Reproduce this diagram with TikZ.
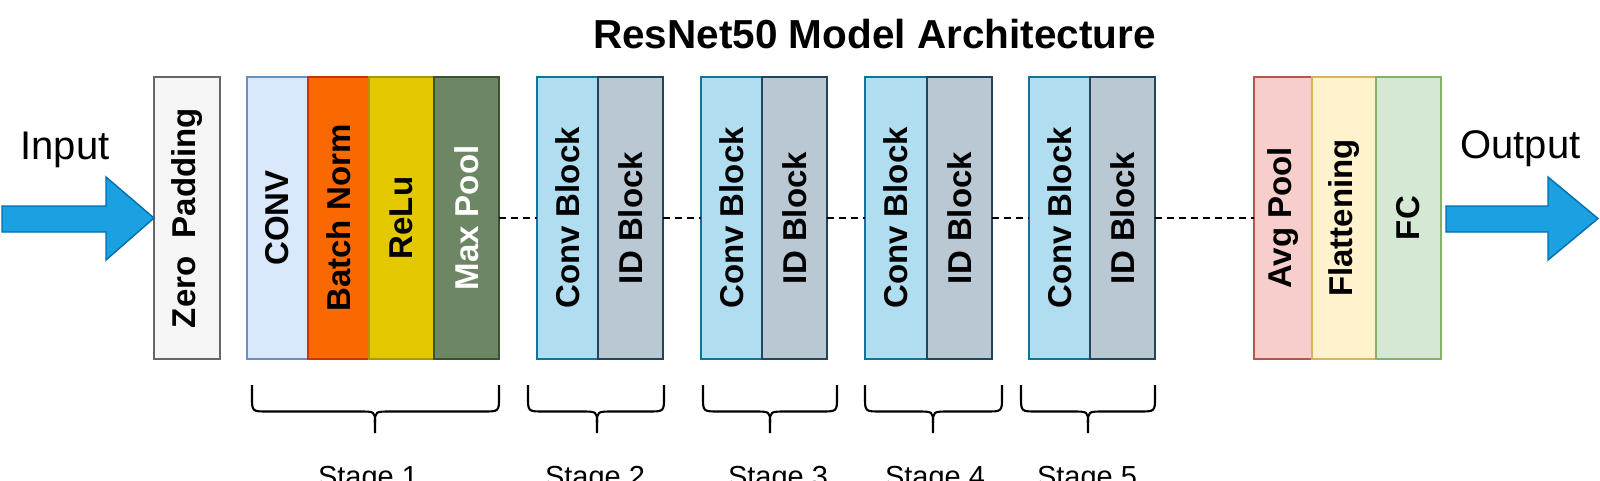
\documentclass[tikz,border=0pt]{standalone}
\usepackage{fontspec}
\setmainfont{Liberation Sans}
\definecolor{zpF}{HTML}{F5F5F5}\definecolor{zpD}{HTML}{666666}
\definecolor{cvF}{HTML}{DAE8FC}\definecolor{cvD}{HTML}{6C8EBF}
\definecolor{bnF}{HTML}{FA6800}\definecolor{bnD}{HTML}{C73500}
\definecolor{reF}{HTML}{E3C800}\definecolor{reD}{HTML}{B09500}
\definecolor{mpF}{HTML}{6D8764}\definecolor{mpD}{HTML}{3A5431}
\definecolor{cbF}{HTML}{B1DDF0}\definecolor{cbD}{HTML}{10739E}
\definecolor{idF}{HTML}{BAC8D3}\definecolor{idD}{HTML}{23445D}
\definecolor{apF}{HTML}{F8CECC}\definecolor{apD}{HTML}{B85450}
\definecolor{flF}{HTML}{FFF2CC}\definecolor{flD}{HTML}{D6B656}
\definecolor{fcF}{HTML}{D5E8D4}\definecolor{fcD}{HTML}{82B366}
\definecolor{arF}{HTML}{1BA1E2}\definecolor{arD}{HTML}{006EAF}
\newcommand\mybrace[3]{%
  \draw[bracestyle] (#1,385) -- (#1,397) .. controls (#1,411.5) and (#1,411.5) .. ({#1+16},411.5)
    -- ({#2-16},411.5) .. controls (#2,411.5) and (#2,411.5) .. (#2,423) -- (#2,433);
  \draw[bracestyle] (#3,385) -- (#3,397) .. controls (#3,411.5) and (#3,411.5) .. ({#3-16},411.5)
    -- ({#2+16},411.5) .. controls (#2,411.5) and (#2,411.5) .. (#2,423);
}
\tikzset{
  box/.style={rectangle, inner sep=0pt, outer sep=0pt, minimum height=282pt, line width=1.5pt},
  lbl/.style={rotate=90, font=\fontsize{33}{36}\selectfont\bfseries},
  bigarrow/.style={fill=arF, draw=arD, line width=1.4pt, line join=miter},
  dashconn/.style={draw=black, line width=2pt, dash pattern=on 7pt off 5pt},
  bracestyle/.style={draw=black, line width=2.1pt, line cap=butt},
  stagelbl/.style={anchor=base, font=\fontsize{29}{32}\selectfont},
  io/.style={anchor=base, font=\fontsize{40}{44}\selectfont}
}
\begin{document}
\begin{tikzpicture}[x=1pt, y=-1pt]
\useasboundingbox (0,0) rectangle (1600,480);
\clip (0,0) rectangle (1600,480);
\fill[white] (0,0) rectangle (1600,480);

\node[anchor=base, font=\fontsize{40.5}{44}\selectfont\bfseries] (title) at (874.5,48) {ResNet50 Model Architecture};

% boxes
\node[box, fill=zpF, draw=zpD, minimum width=66pt, label={[lbl]center:Zero\ \ Padding}] (zp) at (187,218) {};
\node[box, fill=cvF, draw=cvD, minimum width=61pt, label={[lbl]center:CONV}] (conv) at (277.5,218) {};
\node[box, fill=bnF, draw=bnD, minimum width=61pt, label={[lbl]center:Batch Norm}] (bn) at (338.5,218) {};
\node[box, fill=reF, draw=reD, minimum width=65pt, label={[lbl]center:ReLu}] (relu) at (401.5,218) {};
\node[box, fill=mpF, draw=mpD, minimum width=65pt, label={[lbl, text=white]center:Max Pool}] (mp) at (466.5,218) {};

\node[box, fill=cbF, draw=cbD, minimum width=61pt, label={[lbl]center:Conv Block}] (cb2) at (567.5,218) {};
\node[box, fill=idF, draw=idD, minimum width=65pt, label={[lbl]center:ID Block}] (id2) at (630.5,218) {};
\node[box, fill=cbF, draw=cbD, minimum width=61pt, label={[lbl]center:Conv Block}] (cb3) at (731.5,218) {};
\node[box, fill=idF, draw=idD, minimum width=65pt, label={[lbl]center:ID Block}] (id3) at (794.5,218) {};
\node[box, fill=cbF, draw=cbD, minimum width=62pt, label={[lbl]center:Conv Block}] (cb4) at (896,218) {};
\node[box, fill=idF, draw=idD, minimum width=65pt, label={[lbl]center:ID Block}] (id4) at (959.5,218) {};
\node[box, fill=cbF, draw=cbD, minimum width=61pt, label={[lbl]center:Conv Block}] (cb5) at (1059.5,218) {};
\node[box, fill=idF, draw=idD, minimum width=65pt, label={[lbl]center:ID Block}] (id5) at (1122.5,218) {};

\node[box, fill=apF, draw=apD, minimum width=58pt, label={[lbl]center:Avg Pool}] (ap) at (1283,218) {};
\node[box, fill=flF, draw=flD, minimum width=64pt, label={[lbl]center:Flattening}] (fl) at (1344,218) {};
\node[box, fill=fcF, draw=fcD, minimum width=65pt, label={[lbl]center:FC}] (fc) at (1408.5,218) {};

\draw[dashconn] (mp.east) -- (cb2.west);
\draw[dashconn] (id2.east) -- (cb3.west);
\draw[dashconn] (id3.east) -- (cb4.west);
\draw[dashconn] (id4.east) -- (cb5.west);
\draw[dashconn] (id5.east) -- (ap.west);

% input / output arrows
\node[io] (in) at (65,159) {Input};
\node[io] (out) at (1520.5,158) {Output};
\draw[bigarrow] (2,206) -- (106,206) -- (106,177) -- (zp.west) -- (106,260) -- (106,232) -- (2,232) -- cycle;
\draw[bigarrow] (1446,206) -- (1548,206) -- (1548,177) -- (1598,218.5) -- (1548,260) -- (1548,232) -- (1446,232) -- cycle;

% braces and stage labels
\mybrace{252}{375}{499}
\mybrace{528}{597}{664}
\mybrace{703}{770}{837}
\mybrace{865}{933}{1002}
\mybrace{1021}{1088}{1155}
\node[stagelbl] (s1) at (368,486) {Stage 1};
\node[stagelbl] (s2) at (595,486) {Stage 2};
\node[stagelbl] (s3) at (778,486) {Stage 3};
\node[stagelbl] (s4) at (935,486) {Stage 4};
\node[stagelbl] (s5) at (1087,486) {Stage 5};
\end{tikzpicture}
\end{document}
